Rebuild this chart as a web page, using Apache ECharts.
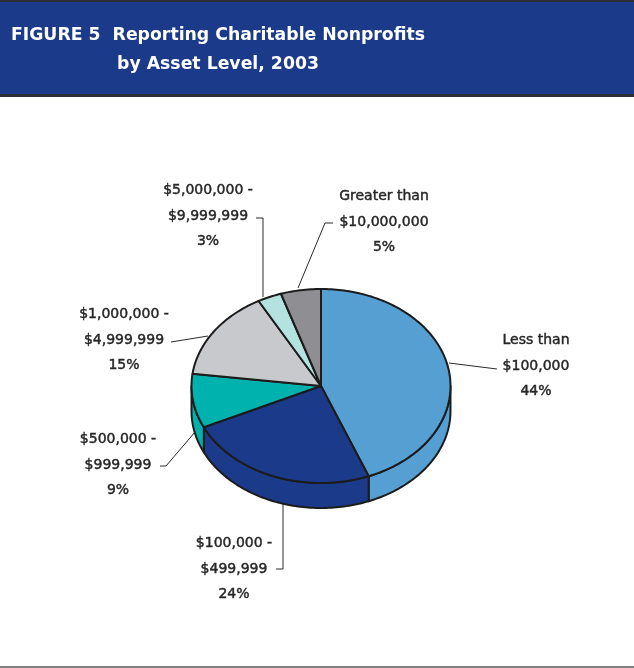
<!DOCTYPE html>
<html>
<head>
<meta charset="utf-8">
<script src="https://cdn.jsdelivr.net/npm/echarts@6/dist/echarts.min.js"></script>
<style>
  html, body { margin: 0; padding: 0; background: #ffffff; }
  #chart { width: 634px; height: 668px; }
</style>
</head>
<body>
<div id="chart"></div>
<script>
// Asset-level categories, clockwise from 12 o'clock
const categories = [
  'Less than\n$100,000',
  '$100,000 -\n$499,999',
  '$500,000 -\n$999,999',
  '$1,000,000 -\n$4,999,999',
  '$5,000,000 -\n$9,999,999',
  'Greater than\n$10,000,000'
];
// Share of reporting charitable nonprofits (%)
const shares = [44, 24, 9, 15, 3, 5];

// Slice fills
const sliceColors = ['#559fd3', '#1b3a8a', '#00b2ae', '#c8c9cc', '#b3e2df', '#8e8e93'];

// Tilted-pie geometry (ellipse center, radii, wall depth)
const CX = 321, CY = 386, RX = 129.5, RY = 97, DEPTH = 25;
const OUTLINE = '#1c1c1c';

// Label placement and leader-line routing for each slice
const labelLayout = [
  { x: 536, y: 366, leader: [[449, 363], [497, 369]] },
  { x: 234, y: 569, leader: [[283, 504], [283, 569], [276, 569]] },
  { x: 118, y: 465, leader: [[195, 432], [166, 466], [160, 466]] },
  { x: 124, y: 340, leader: [[208, 336], [171, 342]] },
  { x: 208, y: 216, leader: [[263, 297], [263, 218], [256, 218]] },
  { x: 384, y: 222, leader: [[298, 288], [325, 223], [333, 223]] }
];

const total = shares.reduce((a, b) => a + b, 0);
const startAngles = [];
{
  let acc = 0;
  shares.forEach(v => { startAngles.push(acc / total * Math.PI * 2); acc += v; });
}

// Point on the tilted rim; t measured clockwise from the top
function rim(t, dy) {
  return [CX + RX * Math.sin(t), CY - RY * Math.cos(t) + (dy || 0)];
}
function arc(a0, a1, dy) {
  const pts = [];
  const n = Math.max(2, Math.ceil((a1 - a0) / 0.02));
  for (let k = 0; k <= n; k++) pts.push(rim(a0 + (a1 - a0) * k / n, dy));
  return pts;
}

function sliceRange(api) {
  const i = api.value(0);
  const a0 = startAngles[i];
  const a1 = a0 + api.value(1) / total * Math.PI * 2;
  return { i, a0, a1 };
}

// Front-facing side walls
function renderWall(params, api) {
  const { i, a0, a1 } = sliceRange(api);
  const s = Math.max(a0, Math.PI / 2), e = Math.min(a1, Math.PI * 1.5);
  if (s >= e) return { type: 'group', children: [] };
  const pts = arc(s, e, 0).concat(arc(s, e, DEPTH).reverse());
  return {
    type: 'polygon',
    shape: { points: pts },
    style: { fill: sliceColors[i], stroke: OUTLINE, lineWidth: 2, lineJoin: 'round' }
  };
}

// Top faces
function renderTop(params, api) {
  const { i, a0, a1 } = sliceRange(api);
  const pts = [[CX, CY]].concat(arc(a0, a1, 0));
  return {
    type: 'polygon',
    shape: { points: pts },
    style: { fill: sliceColors[i], stroke: OUTLINE, lineWidth: 2, lineJoin: 'round' }
  };
}

// Category labels with leader lines
function renderLabel(params, api) {
  const i = api.value(0);
  const lay = labelLayout[i];
  return {
    type: 'group',
    children: [
      {
        type: 'polyline',
        shape: { points: lay.leader },
        style: { stroke: '#2a2a2a', lineWidth: 1, fill: null }
      },
      {
        type: 'text',
        style: {
          text: categories[i] + '\n' + api.value(1) + '%',
          x: lay.x, y: lay.y,
          align: 'center', verticalAlign: 'middle',
          fontFamily: '"DejaVu Sans", sans-serif',
          fontSize: 14,
          lineHeight: 25.5,
          fill: '#262626',
          stroke: '#262626',
          lineWidth: 0.45
        }
      }
    ]
  };
}

const seriesData = shares.map((v, i) => [i, v]);

const chart = echarts.init(document.getElementById('chart'), null, { renderer: 'canvas' });
chart.setOption({
  animation: false,
  backgroundColor: '#ffffff',
  graphic: [
    { type: 'rect', shape: { x: 0, y: 0, width: 634, height: 97 }, style: { fill: '#2b2d3a' } },
    { type: 'rect', shape: { x: 0, y: 2, width: 634, height: 92 }, style: { fill: '#1b3a8a' } },
    {
      type: 'text',
      style: {
        text: 'FIGURE 5  Reporting Charitable Nonprofits\nby Asset Level, 2003',
        x: 218, y: 50,
        align: 'center', verticalAlign: 'middle',
        fontFamily: '"DejaVu Sans", sans-serif',
        fontWeight: 'bold',
        fontSize: 17.3,
        lineHeight: 29,
        fill: '#ffffff'
      }
    },
    { type: 'rect', shape: { x: 0, y: 666, width: 634, height: 2 }, style: { fill: '#7f7f7f' } }
  ],
  series: [
    { type: 'custom', coordinateSystem: 'none', silent: true, data: seriesData, renderItem: renderWall, z: 1 },
    { type: 'custom', coordinateSystem: 'none', silent: true, data: seriesData, renderItem: renderTop, z: 2 },
    { type: 'custom', coordinateSystem: 'none', silent: true, data: seriesData, renderItem: renderLabel, z: 3 }
  ]
});
</script>
</body>
</html>
